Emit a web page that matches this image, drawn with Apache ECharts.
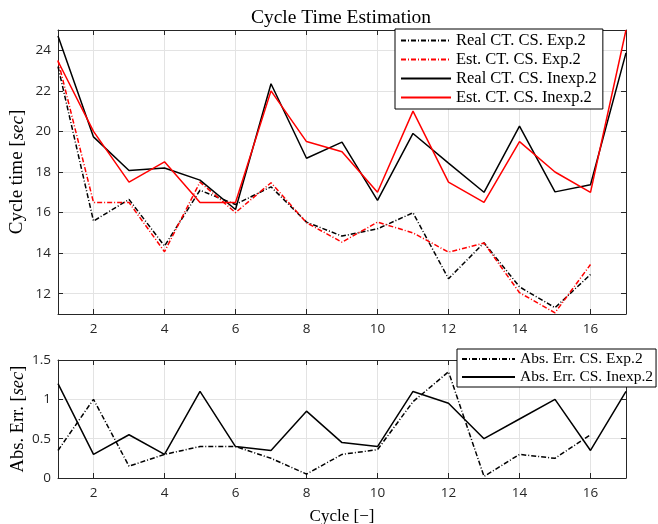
<!DOCTYPE html>
<html>
<head>
<meta charset="utf-8">
<script src="https://cdn.jsdelivr.net/npm/echarts@6/dist/echarts.min.js"></script>
<style>html,body{margin:0;padding:0;background:#fff;}#c{width:658px;height:524px;}</style>
</head>
<body>
<div id="c"></div>
<script>
const cycles = [1,2,3,4,5,6,7,8,9,10,11,12,13,14,15,16,17];
const realExp = [23.2, 15.58, 16.65, 14.35, 17.1, 16.4, 17.27, 15.53, 14.84, 15.2, 15.99, 12.74, 14.51, 12.34, 11.31, 12.95];
const estExp = [23.5, 16.5, 16.5, 14.07, 17.5, 16.0, 17.47, 15.5, 14.54, 15.53, 15.0, 14.05, 14.5, 12.05, 11.06, 13.44];
const realInexp = [24.7, 19.73, 18.07, 18.2, 17.6, 16.15, 22.35, 18.68, 19.47, 16.6, 19.9, 18.44, 17.0, 20.26, 17.02, 17.37, 23.87];
const estInexp = [23.46, 20.0, 17.5, 18.5, 16.5, 16.5, 22.0, 19.5, 19.0, 17.0, 21.0, 17.5, 16.5, 19.5, 18.0, 17.0, 25.0];
const errExp = [0.35, 1.0, 0.15, 0.30, 0.40, 0.40, 0.25, 0.05, 0.30, 0.36, 0.97, 1.35, 0.02, 0.30, 0.25, 0.55];
const errInexp = [1.2, 0.30, 0.55, 0.30, 1.1, 0.40, 0.35, 0.85, 0.45, 0.40, 1.1, 0.95, 0.5, 0.75, 1.0, 0.35, 1.1];
const xTicks = [2,4,6,8,10,12,14,16];
const yTopTicks = [12,14,16,18,20,22,24];

const pairs = (ys) => ys.map((v, i) => [cycles[i], v]);
const SERIF = 'Liberation Serif';
const SANS = 'Open Sans';
const DASHDOT = [5, 2, 1, 2];
const axisCol = '#262626';
const gridCol = '#e3e3e3';

function xAxisDef(gridIndex, showLabel, pos) {
  return {
    type: 'value', gridIndex: gridIndex, min: 1, max: 17, position: pos,
    axisLine: {show: true, onZero: false, lineStyle: {color: axisCol, width: 1}},
    axisTick: {show: true, inside: true, length: 5, customValues: xTicks, lineStyle: {color: axisCol}},
    axisLabel: {show: showLabel, customValues: xTicks, color: axisCol, fontFamily: SANS, fontSize: 13.5, margin: 8},
    splitLine: {show: pos === 'bottom', lineStyle: {color: gridCol, width: 1}}
  };
}
function yTopDef(pos) {
  return {
    type: 'value', gridIndex: 0, min: 11, max: 25, position: pos,
    axisLine: {show: true, onZero: false, lineStyle: {color: axisCol, width: 1}},
    axisTick: {show: true, inside: true, length: 5, customValues: yTopTicks, lineStyle: {color: axisCol}},
    axisLabel: {show: pos === 'left', customValues: yTopTicks, color: axisCol, fontFamily: SANS, fontSize: 13.5, margin: 7},
    splitLine: {show: pos === 'left', lineStyle: {color: gridCol, width: 1}}
  };
}
function yBotDef(pos) {
  return {
    type: 'value', gridIndex: 1, min: 0, max: 1.5, interval: 0.5, position: pos,
    axisLine: {show: true, onZero: false, lineStyle: {color: axisCol, width: 1}},
    axisTick: {show: true, inside: true, length: 5, lineStyle: {color: axisCol}},
    axisLabel: {show: pos === 'left', color: axisCol, fontFamily: SANS, fontSize: 13.5, margin: 7},
    splitLine: {show: pos === 'left', lineStyle: {color: gridCol, width: 1}}
  };
}

const nameRich = (fs) => ({rich: {
  n: {fontFamily: SERIF, fontSize: fs, color: '#000'},
  i: {fontFamily: SERIF, fontStyle: 'italic', fontSize: fs, color: '#000'}
}});

const yTop = yTopDef('left');
yTop.name = '{n|Cycle time [}{i|sec}{n|]}';
yTop.nameLocation = 'middle';
yTop.nameGap = 31;
yTop.nameMoveOverlap = false;
yTop.nameTextStyle = nameRich(19);

const yBot = yBotDef('left');
yBot.name = '{n|Abs. Err. [}{i|sec}{n|]}';
yBot.nameLocation = 'middle';
yBot.nameGap = 30;
yBot.nameMoveOverlap = false;
yBot.nameTextStyle = nameRich(18.5);

const xBot = xAxisDef(1, true, 'bottom');
xBot.name = 'Cycle [\u2212]';
xBot.nameLocation = 'middle';
xBot.nameGap = 30;
xBot.nameTextStyle = {fontFamily: SERIF, fontSize: 17, color: '#000'};

const lineS = (name, data, color, dash, xi, yi) => ({
  name: name, type: 'line', xAxisIndex: xi, yAxisIndex: yi, data: data,
  symbol: 'none', showSymbol: false, animation: false, clip: true,
  lineStyle: {color: color, width: 1.5, type: dash},
  itemStyle: {color: color}
});

const option = {
  animation: false,
  backgroundColor: '#fff',
  title: {
    text: 'Cycle Time Estimation', left: 336, top: 3, textAlign: 'center',
    textStyle: {fontFamily: SERIF, fontSize: 19.5, fontWeight: 'normal', color: '#000'}
  },
  grid: [
    {left: 58, top: 30, right: 32, height: 284, show: false, outerBoundsMode: 'none', containLabel: false},
    {left: 58, top: 360, right: 32, height: 118, show: false, outerBoundsMode: 'none', containLabel: false}
  ],
  xAxis: [xAxisDef(0, true, 'bottom'), xBot, xAxisDef(0, false, 'top'), xAxisDef(1, false, 'top')],
  yAxis: [yTop, yBot, yTopDef('right'), yBotDef('right')],
  legend: [
    {
      orient: 'vertical', left: 395, top: 29, itemWidth: 50, itemHeight: 14, itemGap: 2,
      padding: [3, 6, 3, 5], borderColor: '#000', borderWidth: 1, backgroundColor: '#fff',
      textStyle: {fontFamily: SERIF, fontSize: 16.5, color: '#000'}, itemStyle: {opacity: 0},
      data: ['Real CT. CS. Exp.2', 'Est. CT. CS. Exp.2', 'Real CT. CS. Inexp.2', 'Est. CT. CS. Inexp.2']
    },
    {
      orient: 'vertical', left: 457, top: 349, itemWidth: 53, itemHeight: 14, itemGap: 2,
      padding: [2, 3, 2, 4], borderColor: '#000', borderWidth: 1, backgroundColor: '#fff',
      textStyle: {fontFamily: SERIF, fontSize: 15.5, color: '#000'}, itemStyle: {opacity: 0},
      data: ['Abs. Err. CS. Exp.2', 'Abs. Err. CS. Inexp.2']
    }
  ],
  series: [
    lineS('Real CT. CS. Exp.2', pairs(realExp), '#000', DASHDOT, 0, 0),
    lineS('Est. CT. CS. Exp.2', pairs(estExp), '#ff0000', DASHDOT, 0, 0),
    lineS('Real CT. CS. Inexp.2', pairs(realInexp), '#000', 'solid', 0, 0),
    lineS('Est. CT. CS. Inexp.2', pairs(estInexp), '#ff0000', 'solid', 0, 0),
    lineS('Abs. Err. CS. Exp.2', pairs(errExp), '#000', DASHDOT, 1, 1),
    lineS('Abs. Err. CS. Inexp.2', pairs(errInexp), '#000', 'solid', 1, 1)
  ]
};

const chart = echarts.init(document.getElementById('c'), null, {renderer: 'canvas'});
chart.setOption(option);
</script>
</body>
</html>
